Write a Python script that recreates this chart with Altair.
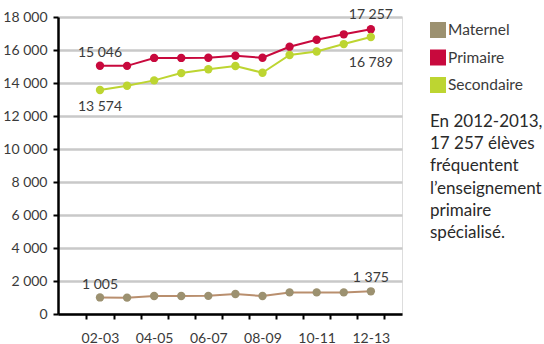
import altair as alt
import pandas as pd

years = ["02-03", "03-04", "04-05", "05-06", "06-07", "07-08", "08-09",
         "09-10", "10-11", "11-12", "12-13"]
maternel = [1005, 990, 1090, 1090, 1100, 1210, 1090, 1310, 1310, 1310, 1375]
primaire = [15046, 15040, 15520, 15520, 15530, 15650, 15530, 16200, 16620, 16950, 17257]
secondaire = [13574, 13830, 14160, 14600, 14830, 15030, 14620, 15700, 15910, 16360, 16789]
series = ["Maternel", "Primaire", "Secondaire"]
point_colors = ["#9c9170", "#c8093d", "#bdd531"]
line_colors = ["#b98f6e", "#c8093d", "#bdd531"]
y_ticks = [0, 2000, 4000, 6000, 8000, 10000, 12000, 14000, 16000, 18000]
note = ["En 2012-2013,", "17 257 élèves", "fréquentent", "l’enseignement",
        "primaire", "spécialisé."]

rows = []
for name, vals in zip(series, [maternel, primaire, secondaire]):
    for i, (yr, v) in enumerate(zip(years, vals)):
        rows.append({"serie": name, "annee": yr, "i": i, "v": v,
                     "lab": f"{v:,}".replace(",", " ")})
df = pd.DataFrame(rows)

FONT = "Lato"
TXT = "#3a3a3a"
LAST = len(years) - 1

lab_arr = "[" + ",".join(
    f"'{y}'" if k % 2 == 0 else "''" for k, y in enumerate(years)) + ",'']"

x_enc = alt.X("i:Q", scale=alt.Scale(domain=[-1.55, 11.15], nice=False, zero=False),
              axis=alt.Axis(values=[k - 0.5 for k in range(len(years) + 1)],
                            labelExpr=f"{lab_arr}[round(datum.value + 0.5)]",
                            labelOffset=13.5, title=None, grid=False,
                            labelOverlap=False,
                            domainColor="black", domainWidth=2.5,
                            tickColor="black", tickWidth=2, tickSize=5,
                            labelFont=FONT, labelFontSize=14, labelColor=TXT,
                            labelPadding=12))
y_enc = alt.Y("v:Q", scale=alt.Scale(domain=[0, 18000], nice=False),
              axis=alt.Axis(values=y_ticks, title=None, labelOverlap=False,
                            labelExpr="replace(format(datum.value, ','), ',', ' ')",
                            domainColor="black", domainWidth=2.5,
                            tickColor="black", tickWidth=2, tickSize=5,
                            gridColor="#c9c9c9", gridWidth=2.5,
                            labelFont=FONT, labelFontSize=14, labelColor=TXT,
                            labelPadding=6))

base = alt.Chart(df).encode(x=x_enc, y=y_enc)

lines = base.mark_line(strokeWidth=2).encode(
    color=alt.Color("serie:N", scale=alt.Scale(domain=series, range=line_colors),
                    legend=None))
points = base.mark_point(filled=True, size=70, opacity=1).encode(
    color=alt.Color("serie:N", scale=alt.Scale(domain=series, range=point_colors),
                    legend=alt.Legend(title=None, orient="none", legendX=372, legendY=5,
                                      symbolType="square", symbolSize=256,
                                      symbolStrokeWidth=0, symbolOpacity=1,
                                      labelFont=FONT, labelFontSize=15.5,
                                      labelColor=TXT, rowPadding=10.5,
                                      labelOffset=2, padding=0)),
)
marks = alt.layer(lines, points).resolve_scale(color="independent")


def labels(name, idx, dy):
    return base.transform_filter(
        (alt.datum.serie == name) & (alt.datum.i == idx)
    ).mark_text(font=FONT, fontSize=14, color=TXT, dy=dy).encode(text="lab:N")


label_layers = [
    labels("Maternel", 0, -12), labels("Maternel", LAST, -13),
    labels("Primaire", 0, -13), labels("Primaire", LAST, -14),
    labels("Secondaire", 0, 17), labels("Secondaire", LAST, 26),
]

note_layer = alt.Chart(pd.DataFrame({"t": [0]})).mark_text(
    font=FONT, fontSize=17, color="#2a2a2a", align="left", baseline="top",
    lineHeight=22.2
).encode(x=alt.value(372), y=alt.value(97), text=alt.value(note))

chart = alt.layer(marks, *label_layers, note_layer).resolve_scale(
    color="independent"
).properties(
    width=344, height=297,
    autosize=alt.AutoSizeParams(type="none"),
    padding={"left": 58, "top": 17, "right": 142, "bottom": 30},
).configure_view(stroke=None).configure(background="white")

chart.save("out.html", embed_options={"renderer": "svg", "actions": False})
